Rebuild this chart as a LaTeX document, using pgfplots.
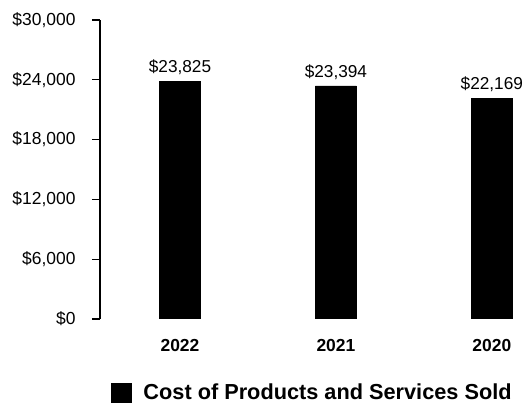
\documentclass[border=0pt]{standalone}
\usepackage{pgfplots}
\pgfplotsset{compat=1.18}
\usepackage{fontspec}
\setmainfont{Liberation Sans}

\begin{document}
\begin{tikzpicture}
\begin{axis}[
    at={(100bp,84bp)}, anchor=south west,
    scale only axis,
    width=423bp, height=299bp,
    xmin=-0.513, xmax=2.2,
    ymin=0, ymax=30000,
    axis y line*=left,
    axis x line*=bottom,
    x axis line style={draw=none},
    y axis line style={line width=1.3pt},
    xtick={0,1,2},
    xticklabels={2022,2021,2020},
    xticklabel style={font=\fontsize{17.5}{17.5}\selectfont\bfseries, yshift=-9bp},
    major x tick style={draw=none},
    ytick={0,6000,12000,18000,24000,30000},
    scaled y ticks=false,
    yticklabel={\$\pgfmathprintnumber{\tick}},
    /pgf/number format/.cd, 1000 sep={,}, assume math mode=true, /pgfplots/.cd,
    yticklabel style={font=\fontsize{17.5}{17.5}\selectfont, xshift=-13bp},
    tick align=outside,
    major tick length=8bp,
    major y tick style={line width=1.3pt, black},
    ybar, bar width=41bp,
    nodes near coords={\$\pgfmathprintnumber{\pgfplotspointmeta}},
    nodes near coords style={font=\fontsize{17.3}{17.3}\selectfont, yshift=3bp},
    legend style={at={(0.502,-0.247)}, anchor=center, draw=none, fill=none,
        font=\fontsize{21.8}{21.8}\selectfont\bfseries},
    legend image code/.code={\fill[black] (0bp,-10bp) rectangle (20bp,10bp); \path (30bp,0bp);},
]
\addplot[fill=black, draw=black] coordinates {(0,23825) (1,23394) (2,22169)};
\legend{Cost of Products and Services Sold}
\end{axis}
\pgfresetboundingbox
\path[use as bounding box] (0,0) rectangle (528bp,403bp);
\end{tikzpicture}
\end{document}
